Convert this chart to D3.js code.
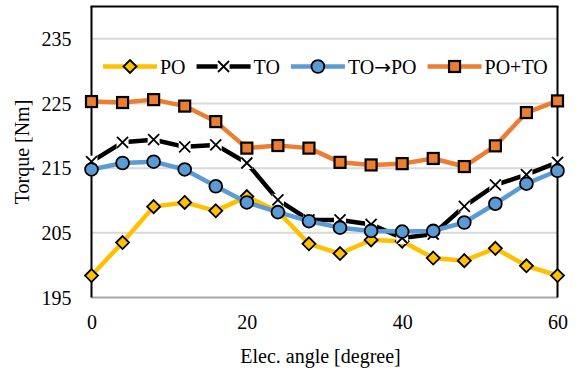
<!DOCTYPE html>
<html><head><meta charset="utf-8">
<script src="https://cdn.jsdelivr.net/npm/d3@7"></script>
<style>body{margin:0;background:#fff}svg{display:block}text{font-family:"Liberation Serif","Times New Roman",serif;fill:#000}</style>
</head><body><svg id="c" width="581" height="373"></svg>
<script>
const angles = [0,4,8,12,16,20,24,28,32,36,40,44,48,52,56,60];
const PO    = [198.4,203.5,209.05,209.7,208.4,210.6,208.3,203.3,201.8,203.9,203.7,201.1,200.7,202.6,199.9,198.4];
const TO    = [216.0,219.0,219.4,218.3,218.6,215.8,210.1,207.0,207.0,206.3,204.2,204.8,209.1,212.4,214.0,215.9];
const TOPO  = [214.8,215.8,216.0,214.8,212.2,209.7,208.2,206.8,205.8,205.3,205.2,205.3,206.6,209.5,212.6,214.6];
const POTO  = [225.3,225.15,225.6,224.6,222.2,218.1,218.5,218.1,215.9,215.5,215.7,216.5,215.25,218.45,223.6,225.4];
const seriesNames = ["PO","TO","TO\u2192PO","PO+TO"];
const yTicks = [195,205,215,225,235];
const xTicks = [0,20,40,60];

const series = [
  {name:seriesNames[0], values:PO,   color:"#FFC000", marker:"diamond"},
  {name:seriesNames[1], values:TO,   color:"#000000", marker:"x"},
  {name:seriesNames[2], values:TOPO, color:"#5B9BD5", marker:"circle"},
  {name:seriesNames[3], values:POTO, color:"#ED7D31", marker:"square"}
];

const svg = d3.select("#c");
const L=91.5, R=557.5, T=6.5, B=297.5;
const x = d3.scaleLinear().domain([0,60]).range([L,R]);
const y = d3.scaleLinear().domain([195,240]).range([B,T]);

svg.append("g").selectAll("line").data(yTicks.filter(v=>v>195)).join("line")
  .attr("x1",L).attr("x2",R).attr("y1",d=>y(d)).attr("y2",d=>y(d))
  .attr("stroke","#d9d9d9").attr("stroke-width",2);

const ya = svg.append("g").attr("transform",`translate(${L},0)`)
  .call(d3.axisLeft(y).tickValues(yTicks).tickSize(0).tickPadding(20).tickFormat(d3.format("d")));
ya.select(".domain").remove();
ya.selectAll("text").attr("font-size",20).attr("font-family","Liberation Serif").attr("fill","#000").attr("dy","0.34em");

const xa = svg.append("g").attr("transform",`translate(0,${B})`)
  .call(d3.axisBottom(x).tickValues(xTicks).tickSize(0).tickPadding(17).tickFormat(d3.format("d")));
xa.select(".domain").remove();
xa.selectAll("text").attr("font-size",20).attr("font-family","Liberation Serif").attr("fill","#000");

svg.append("line").attr("x1",L).attr("x2",R).attr("y1",B).attr("y2",B).attr("stroke","#a6a6a6").attr("stroke-width",2);
svg.append("line").attr("x1",L-1).attr("x2",R+1).attr("y1",T).attr("y2",T).attr("stroke","#000").attr("stroke-width",2);
svg.append("line").attr("x1",L).attr("x2",L).attr("y1",T).attr("y2",B).attr("stroke","#000").attr("stroke-width",2);
svg.append("line").attr("x1",R).attr("x2",R).attr("y1",T).attr("y2",B).attr("stroke","#000").attr("stroke-width",2);

function drawMarker(g, type, cx, cy, color){
  if(type==="diamond"){
    g.append("path").attr("d",`M${cx},${cy-6.5}L${cx+6.5},${cy}L${cx},${cy+6.5}L${cx-6.5},${cy}Z`)
      .attr("fill",color).attr("stroke","#000").attr("stroke-width",1.8);
  } else if(type==="circle"){
    g.append("circle").attr("cx",cx).attr("cy",cy).attr("r",6.4)
      .attr("fill",color).attr("stroke","#000").attr("stroke-width",1.8);
  } else if(type==="square"){
    g.append("rect").attr("x",cx-5.5).attr("y",cy-5.5).attr("width",11).attr("height",11)
      .attr("fill",color).attr("stroke","#000").attr("stroke-width",2.2);
  } else if(type==="x"){
    g.append("rect").attr("x",cx-6).attr("y",cy-6).attr("width",12).attr("height",12).attr("fill","#fff");
    g.append("path").attr("d",`M${cx-5.5},${cy-5.5}L${cx+5.5},${cy+5.5}M${cx+5.5},${cy-5.5}L${cx-5.5},${cy+5.5}`)
      .attr("stroke","#000").attr("stroke-width",1.8).attr("fill","none");
  }
}

const line = d3.line().x((d,i)=>x(angles[i])).y(d=>y(d));
series.forEach(s=>{
  const g = svg.append("g");
  g.append("path").attr("d",line(s.values)).attr("fill","none").attr("stroke",s.color)
    .attr("stroke-width",4.5).attr("stroke-linejoin","round");
  s.values.forEach((v,i)=>drawMarker(g,s.marker,x(angles[i]),y(v),s.color));
});

const lg = svg.append("g");
let lx = 103; const ly = 66.5;
series.forEach(s=>{
  lg.append("line").attr("x1",lx).attr("x2",lx+54).attr("y1",ly).attr("y2",ly)
    .attr("stroke",s.color).attr("stroke-width",4.5);
  drawMarker(lg,s.marker,lx+27,ly,s.color);
  const t = lg.append("text").attr("x",lx+57).attr("y",ly+7).attr("font-size",20);
  s.name.split(/(\u2192)/).forEach(part=>{
    if(!part) return;
    const ts = t.append("tspan").text(part);
    if(part==="\u2192") ts.attr("font-family","DejaVu Sans").attr("font-size",20);
  });
  lx = lx+57+t.node().getComputedTextLength()+11;
});

svg.append("text").attr("x",(L+R)/2-4).attr("y",363).attr("text-anchor","middle").attr("font-size",20).text("Elec. angle [degree]");
svg.append("text").attr("transform",`translate(29,152) rotate(-90)`).attr("text-anchor","middle").attr("font-size",20).text("Torque [Nm]");
</script></body></html>
